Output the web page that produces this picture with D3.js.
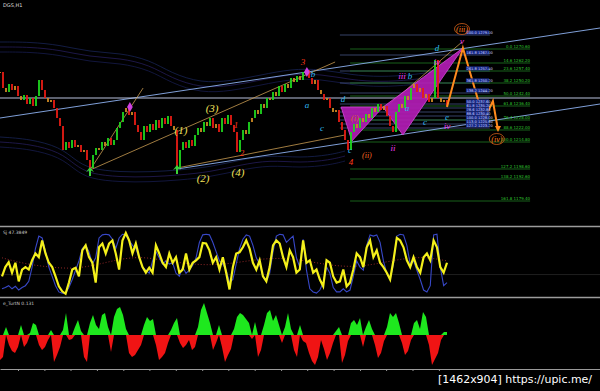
<!DOCTYPE html>
<html>
<head>
<meta charset="utf-8">
<script src="https://cdn.jsdelivr.net/npm/d3@7"></script>
<style>
html, body { margin: 0; padding: 0; background: #000; }
svg { display: block; }
text { font-family: "DejaVu Sans", sans-serif; }
.wave { font-family: "Liberation Serif", serif; font-style: italic; }
</style>
</head>
<body>
<svg id="chart" width="600" height="391"></svg>
<script>
// --- price pane data (bar index -> close) ---
const closes = [
  1256.8, 1247.2, 1244.8, 1249.6, 1246.0, 1248.4, 1242.4, 1240.0, 1243.0, 1237.6,
  1241.2, 1236.4, 1242.4, 1252.0, 1246.0, 1241.2, 1238.8, 1240.0, 1235.2, 1229.2,
  1224.4, 1210.0, 1214.8, 1211.2, 1216.0, 1211.8, 1213.0, 1208.8, 1210.0, 1204.0,
  1199.2, 1207.0, 1211.2, 1210.0, 1214.8, 1212.4, 1217.2, 1213.0, 1216.0, 1223.2,
  1226.8, 1232.8, 1235.2, 1231.0, 1232.8, 1225.0, 1220.8, 1216.0, 1224.4, 1220.8,
  1225.6, 1222.0, 1228.0, 1223.2, 1229.2, 1225.6, 1230.4, 1224.4, 1222.0, 1199.2,
  1210.0, 1214.8, 1211.2, 1216.0, 1212.4, 1219.0, 1223.2, 1220.8, 1226.8, 1224.4,
  1229.2, 1223.2, 1225.6, 1220.8, 1229.2, 1225.6, 1231.0, 1225.0, 1220.8, 1208.8,
  1216.0, 1222.0, 1219.6, 1226.8, 1229.2, 1234.0, 1231.6, 1237.6, 1235.2, 1241.2,
  1240.0, 1244.8, 1242.4, 1248.4, 1244.8, 1249.6, 1247.2, 1253.2, 1250.8, 1254.4,
  1252.0, 1256.8, 1258.0, 1253.2, 1249.6, 1252.0, 1246.0, 1243.6, 1240.0, 1241.2,
  1235.2, 1232.8, 1234.0, 1226.8, 1222.0, 1216.0, 1210.0, 1220.8, 1225.6, 1223.2,
  1229.2, 1226.8, 1231.6, 1229.2, 1235.2, 1232.8, 1237.6, 1234.0, 1236.4, 1230.4,
  1224.4, 1220.8, 1232.8, 1237.6, 1235.2, 1242.4, 1240.0, 1247.2, 1249.6, 1244.8,
  1247.2, 1241.2, 1243.6, 1238.8, 1241.2, 1264.0, 1241.2, 1238.8, 1240.0, 1236.4
];

const upperBandIdx = [0, 10, 20, 30, 40, 50, 57, 67, 77, 87, 97, 107, 117, 127, 137, 147];
const upperBand = [1271.8, 1271.8, 1270.0, 1265.8, 1265.2, 1261.0, 1253.2, 1247.2,
                   1248.4, 1252.0, 1255.6, 1255.6, 1252.0, 1250.8, 1252.0, 1254.4];
const lowerBandIdx = [0, 10, 20, 25, 30, 40, 50, 60, 70, 80, 90, 100, 110, 115];
const lowerBand = [1214.8, 1213.6, 1208.8, 1201.0, 1195.6, 1193.8, 1193.8, 1195.0,
                   1196.8, 1201.0, 1204.0, 1202.2, 1204.0, 1206.4];

// trend lines: [idx1, price1, idx2, price2, kind]
const trendLines = [
  [0, 1229.2, 200, 1283.2, 'channel'],
  [59, 1198.6, 200, 1237.6, 'channel'],
  [0, 1241.2, 200, 1241.2, 'level'],
  [30, 1198.0, 47.7, 1247.2, 'fan'],
  [30, 1198.0, 111.7, 1262.8, 'fan'],
  [59, 1199.2, 115, 1219.0, 'fan'],
  [128.3, 1235.2, 154, 1274.8, 'fan']
];

// harmonic pattern X A B C D
const patIdx = [113.7, 117.3, 127.7, 134.3, 154.3];
const patPrice = [1235.8, 1215.4, 1235.8, 1219.0, 1271.2];

// projected path
const projIdx = [149, 154.3, 161.3, 164.3, 166];
const projPrice = [1235.8, 1271.2, 1228.0, 1239.4, 1222.0];

// fibonacci levels
const blueFibPct = ['100.0', '161.8', '261.8', '361.8', '138.2', '50.0', '61.8', '78.6', '88.6', '100.0', '113.0', '127.2'];
const blueFibLevels = [1279.0, 1267.0, 1257.4, 1250.2, 1244.2, 1237.6, 1235.2, 1232.8, 1230.4, 1228.0, 1225.6, 1223.2];
const greenFibPct = ['0.0', '14.6', '23.6', '38.2', '50.0', '61.8', '76.4', '88.6', '100.0', '127.2', '138.2', '161.8'];
const greenFibLevels = [1270.6, 1262.2, 1257.4, 1250.2, 1242.4, 1236.4, 1228.0, 1222.0, 1214.8, 1198.6, 1192.6, 1179.4];

// wave labels: text, bar index, price, colour group
const waveLabels = [
  ['3', 101, 1262.8, 'red'], ['b', 104.3, 1255.6, 'cyan'], ['a', 102.3, 1237, 'cyan'],
  ['c', 107.3, 1223.2, 'cyan'], ['d', 114.3, 1240.6, 'cyan'],
  ['(1)', 60.3, 1222, 'yellow'], ['(3)', 70.7, 1235.2, 'yellow'],
  ['(2)', 67.7, 1193.2, 'yellow'], ['(4)', 79.3, 1196.8, 'yellow'],
  ['1', 78.7, 1225, 'red'], ['2', 80.7, 1208.2, 'red'], ['4', 117, 1202.8, 'red'],
  ['c', 116.7, 1210, 'cyan'], ['(ii)', 122.3, 1207, 'orange'], ['(i)', 118.3, 1229.2, 'brown'],
  ['iii', 134, 1254.4, 'magenta'], ['b', 136.7, 1254.4, 'cyan'], ['d', 145.7, 1271.2, 'cyan'],
  ['iv', 145.7, 1262.8, 'magenta'], ['v', 154, 1275.4, 'magenta'],
  ['a', 135.7, 1235.2, 'cyan'], ['c', 141.7, 1226.8, 'cyan'], ['e', 149, 1229.8, 'cyan'],
  ['ii', 131, 1211.2, 'magenta'], ['iv', 149, 1224.4, 'magenta'],
  ['(iii)', 154, 1282.6, 'circled'], ['(iv)', 165.6, 1216.6, 'circled']
];
const arrowMarks = [[30, 1196.8], [59, 1198.0]];
const diamondMarks = [[43.3, 1235.8], [102.3, 1256.8]];

// --- oscillator pane ---
const stochMain = [
  30, 45, 53, 36, 52, 22, 41, 45, 41, 56, 67, 61, 88, 67, 52, 45, 30, 14, 6, 2,
  20, 41, 44, 30, 72, 80, 61, 52, 20, 77, 83, 67, 83, 88, 67, 41, 88, 100, 88, 67,
  83, 61, 45, 36, 44, 36, 80, 67, 52, 45, 67, 52, 61, 36, 41, 67, 41, 52, 56, 61,
  84, 83, 72, 52, 61, 41, 61, 36, 9, 45, 67, 69, 77, 88, 75, 52, 41, 56, 30, 22,
  45, 80, 88, 83, 61, 45, 72, 61, 36, 41, 88, 52, 56, 36, 41, 25, 14, 56, 52, 30,
  20, 22, 41, 14, 20, 41, 67, 61, 45, 77, 88, 61, 72, 52, 45, 36, 25, 56, 92, 88,
  77, 56, 45, 61, 45, 36, 61, 67, 56, 88, 77, 45, 36, 52
];
const stochFast = [
  10, 12, 15, 10, 14, 8, 12, 15, 22, 45, 75, 95, 92, 70, 45, 30, 15, 5, 3, 3,
  12, 25, 40, 55, 75, 80, 70, 50, 60, 92, 97, 98, 97, 90, 75, 92, 98, 97, 88, 80,
  75, 60, 45, 40, 35, 55, 70, 60, 50, 55, 50, 52, 35, 30, 45, 35, 40, 48, 60, 85,
  97, 98, 97, 85, 70, 55, 50, 40, 20, 25, 50, 75, 90, 97, 95, 80, 60, 50, 30, 22,
  35, 70, 95, 98, 97, 85, 90, 95, 60, 45, 90, 40, 10, 5, 3, 8, 20, 45, 35, 12,
  5, 5, 10, 5, 8, 30, 55, 45, 40, 80, 97, 95, 97, 85, 55, 35, 25, 50, 95, 98,
  97, 80, 50, 55, 40, 25, 8, 5, 15, 97, 98, 45, 15, 20
];
const stochSignal = [60, 50, 45, 42, 48, 58, 62, 55, 50, 48, 52, 58, 60, 55, 48, 45, 50, 58, 62, 55];

// --- histogram pane ---
const turtle = [
  -25, -22, 8, -10, -16, -18, -12, 10, -12, -8, 2, 12, 10, -10, -15, -12, -5, 5, -27, -20,
  -12, 5, 22, -5, -4, 8, 15, 4, -22, -27, 12, 20, 10, 6, 20, 22, 8, -17, 18, 26,
  28, 20, 6, -18, -22, -20, -15, -10, 10, 18, 14, 16, -10, -25, -22, -18, -8, 5, 12, 17,
  -8, -13, -10, -5, -15, -12, 8, 25, 32, 22, 12, -15, -8, 10, -12, -27, -20, -14, 6, 18,
  22, 20, 16, 12, -4, 13, -22, -15, 10, 22, 25, 14, 20, 10, -8, 8, 22, 6, -15, -22,
  10, -6, -8, -18, -26, -30, -22, -5, -14, -25, -18, -8, 4, 8, -28, -20, -6, 12, 15, 10,
  17, -12, 8, 15, 6, -10, -23, -18, -6, 8, 22, 18, 22, 12, -8, -20, -16, -5, 12, 15,
  6, 23, 18, -10, -30, -24, -18, -5, 3, 3
];
const timeTicks = [6, 14.8, 23.5, 32.3, 41.1, 49.8, 58.6, 67.4, 76.1, 84.9, 93.7, 102.4, 111.2, 120, 128.7, 137.5, 146.3];

const colors = {
  red: '#ff3a1a', cyan: '#30b8f0', yellow: '#f2e25a', orange: '#ff6a20',
  brown: '#d86a2a', magenta: '#f03cf0', circled: '#ff7a1a'
};

const svg = d3.select('#chart');
svg.append('rect').attr('width', 600).attr('height', 391).attr('fill', '#000');

const x = d3.scaleLinear().domain([0, 200]).range([0, 600]);
const y = d3.scaleLinear().domain([1165, 1300]).range([225, 0]);

svg.append('clipPath').attr('id', 'mainClip')
  .append('rect').attr('width', 600).attr('height', 225);
const main = svg.append('g').attr('clip-path', 'url(#mainClip)');

// envelope bands (dim)
const bandLine = d3.line().curve(d3.curveBasis).x(d => x(d[0])).y(d => y(d[1]));
const bandStyles = [[-3, '#1a1f58'], [0, '#2a2166'], [3, '#1b2860']];
bandStyles.forEach(([off, col]) => {
  main.append('path')
    .datum(upperBandIdx.map((i, k) => [i, upperBand[k] + off]))
    .attr('d', bandLine).attr('fill', 'none').attr('stroke', col).attr('stroke-width', 0.7);
  main.append('path')
    .datum(lowerBandIdx.map((i, k) => [i, lowerBand[k] + off]))
    .attr('d', bandLine).attr('fill', 'none').attr('stroke', col).attr('stroke-width', 0.7);
});

// fib lines
const fibBlue = main.append('g');
blueFibLevels.forEach(p => {
  fibBlue.append('line')
    .attr('x1', x(113.3)).attr('x2', x(163.3)).attr('y1', y(p)).attr('y2', y(p))
    .attr('stroke', '#4f6096').attr('stroke-width', 0.7);
});
const fibGreen = main.append('g');
greenFibLevels.forEach(p => {
  fibGreen.append('line')
    .attr('x1', x(116.7)).attr('x2', x(176.7)).attr('y1', y(p)).attr('y2', y(p))
    .attr('stroke', '#1f7a22').attr('stroke-width', 0.8);
});

// trend lines
const lineColor = {channel: '#7f9fd8', level: '#b8c0dc', fan: '#c89a50'};
main.selectAll('line.trend').data(trendLines).join('line')
  .attr('class', 'trend')
  .attr('x1', d => x(d[0])).attr('y1', d => y(d[1]))
  .attr('x2', d => x(d[2])).attr('y2', d => y(d[3]))
  .attr('stroke', d => lineColor[d[4]])
  .attr('stroke-width', d => d[4] === 'fan' ? 0.8 : 1);

// harmonic pattern
const pts = patIdx.map((i, k) => [x(i), y(patPrice[k])]);
[[0, 1, 2], [2, 3, 4]].forEach(tri => {
  main.append('path')
    .attr('d', 'M' + tri.map(k => pts[k].join(',')).join('L') + 'Z')
    .attr('fill', '#b21cb4').attr('fill-opacity', 0.92)
    .attr('stroke', '#d848d8').attr('stroke-width', 0.8);
});

// candles
const bars = closes.map((c, i) => ({i: i, o: i ? closes[i - 1] : c, c: c}));
main.selectAll('rect.bar').data(bars).join('rect')
  .attr('class', 'bar')
  .attr('x', d => x(d.i) - 0.9).attr('width', 1.8)
  .attr('y', d => y(Math.max(d.o, d.c)))
  .attr('height', d => Math.max(1, Math.abs(y(d.o) - y(d.c))))
  .attr('fill', d => d.c - d.o > 2.5 ? '#1ed81e' : d.o - d.c > 2.5 ? '#e81c14' : '#d08a22');

// projection zigzag
main.append('path')
  .datum(projIdx.map((i, k) => [i, projPrice[k]]))
  .attr('d', d3.line().x(d => x(d[0])).y(d => y(d[1])))
  .attr('fill', 'none').attr('stroke', '#ff8a1e').attr('stroke-width', 2);
const endI = projIdx.length - 1;
main.append('path')
  .attr('transform', `translate(${x(projIdx[endI])},${y(projPrice[endI])})`)
  .attr('d', 'M-3,-4L0,2L3,-4Z').attr('fill', '#ff8a1e');

// fib labels
blueFibLevels.forEach((p, k) => {
  main.append('rect').attr('x', x(155.3)).attr('y', y(p) - 4.6)
    .attr('width', 23).attr('height', 4).attr('fill', '#1a2a86');
  main.append('text').attr('x', x(155.5)).attr('y', y(p) - 1.4)
    .attr('font-size', 3.6).attr('fill', '#c8d4ff')
    .text(blueFibPct[k] + ' ' + p.toFixed(2));
});
greenFibLevels.forEach((p, k) => {
  main.append('text').attr('x', x(176.7)).attr('y', y(p) - 1.2)
    .attr('text-anchor', 'end').attr('font-size', 4).attr('fill', '#2fc42f')
    .text(greenFibPct[k] + ' ' + p.toFixed(2));
});

// markers
main.selectAll('path.arrow').data(arrowMarks).join('path')
  .attr('class', 'arrow')
  .attr('transform', d => `translate(${x(d[0])},${y(d[1])})`)
  .attr('d', 'M0,-5L4,0L1,-1.5L1,4L-1,4L-1,-1.5L-4,0Z')
  .attr('fill', '#3ad23a');
main.selectAll('path.diamond').data(diamondMarks).join('path')
  .attr('class', 'diamond')
  .attr('transform', d => `translate(${x(d[0])},${y(d[1])})`)
  .attr('d', d3.symbol(d3.symbolDiamond, 28))
  .attr('fill', '#d040e0');

// wave labels
const labels = main.selectAll('g.wave').data(waveLabels).join('g')
  .attr('class', 'wave')
  .attr('transform', d => `translate(${x(d[1])},${y(d[2])})`);
labels.filter(d => d[3] === 'circled').append('ellipse')
  .attr('rx', 7.5).attr('ry', 5.5).attr('fill', 'none')
  .attr('stroke', '#d0601a').attr('stroke-width', 0.8);
labels.append('text')
  .attr('class', 'wave')
  .attr('text-anchor', 'middle').attr('dy', '0.33em')
  .attr('font-size', d => d[0].startsWith('(') ? (d[3] === 'yellow' ? 11 : 8) : 9)
  .attr('fill', d => colors[d[3]])
  .text(d => d[0]);

main.append('text').attr('x', 3).attr('y', 7).attr('font-size', 5).attr('fill', '#ddd').text('DGS,H1');

// pane separators
[226.5, 297.5].forEach(v => {
  svg.append('line').attr('x1', 0).attr('x2', 600).attr('y1', v).attr('y2', v)
    .attr('stroke', '#9c9c9c').attr('stroke-width', 1.6);
});

// oscillator
const oy = d3.scaleLinear().domain([0, 100]).range([295, 233]);
const oxMain = d3.scaleLinear().domain([0, stochMain.length - 1]).range([2, 447]);
const oxFast = d3.scaleLinear().domain([0, stochFast.length - 1]).range([2, 447]);
const oxSig = d3.scaleLinear().domain([0, stochSignal.length - 1]).range([2, 447]);
svg.append('line').attr('x1', 0).attr('x2', 600).attr('y1', oy(33)).attr('y2', oy(33))
  .attr('stroke', '#1e1e1e').attr('stroke-width', 1);
svg.append('path').datum(stochSignal)
  .attr('d', d3.line().curve(d3.curveBasis).x((d, i) => oxSig(i)).y(d => oy(d)))
  .attr('fill', 'none').attr('stroke', '#b03030').attr('stroke-width', 0.8)
  .attr('stroke-dasharray', '1,2');
svg.append('path').datum(stochFast)
  .attr('d', d3.line().x((d, i) => oxFast(i)).y(d => oy(d)))
  .attr('fill', 'none').attr('stroke', '#3848c8').attr('stroke-width', 1.1);
svg.append('path').datum(stochMain)
  .attr('d', d3.line().x((d, i) => oxMain(i)).y(d => oy(d)))
  .attr('fill', 'none').attr('stroke', '#f4f01a').attr('stroke-width', 2.2);
svg.append('text').attr('x', 3).attr('y', 234).attr('font-size', 4.5).attr('fill', '#ccc').text('Sj 47.3849');

// histogram
const hy = d3.scaleLinear().domain([-35, 35]).range([370, 300]);
svg.append('path').datum(turtle)
  .attr('d', d3.area().x((d, i) => x(i)).y0(hy(0)).y1(d => hy(Math.max(0, d))))
  .attr('fill', '#1ee81e');
svg.append('path').datum(turtle)
  .attr('d', d3.area().x((d, i) => x(i)).y0(hy(0)).y1(d => hy(Math.min(0, d))))
  .attr('fill', '#f01414');
svg.append('text').attr('x', 3).attr('y', 305).attr('font-size', 4.5).attr('fill', '#ccc').text('e_TurtN 0.131');

const axis = svg.append('g').attr('transform', 'translate(0,369)')
  .call(d3.axisBottom(x).tickValues(timeTicks).tickSize(2).tickSizeOuter(0).tickFormat(''));
axis.select('.domain').attr('stroke', '#9a9a9a').attr('stroke-width', 1.2);
axis.selectAll('.tick line').attr('stroke', '#9a9a9a');

svg.append('text').attr('x', 438).attr('y', 383)
  .attr('font-size', 11).attr('fill', '#fff')
  .attr('textLength', 154).attr('lengthAdjust', 'spacingAndGlyphs')
  .text('[1462x904] https://upic.me/');
</script>
</body>
</html>
